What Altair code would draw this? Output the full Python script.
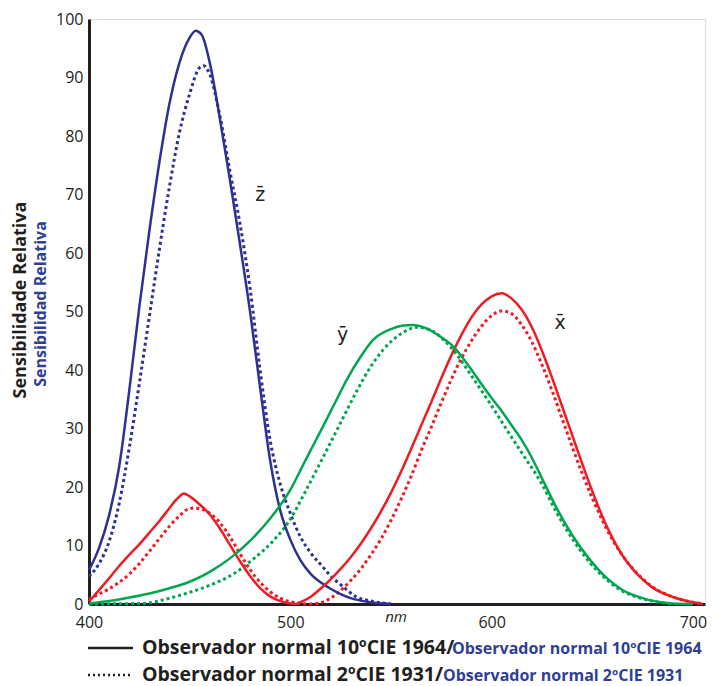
import altair as alt
import pandas as pd

# ---- data (wavelength nm, relative sensitivity) ----
z10_nm = [400, 405, 410, 415, 420, 425, 430, 435, 440, 445, 450, 453, 456, 460, 465, 470, 475, 480, 485, 490, 495, 500, 505, 510, 515, 520, 525, 530, 540, 550]
z10_v  = [5.8, 9.6, 15.2, 23.5, 36.5, 50.8, 63.8, 75.6, 85.6, 92.6, 96.8, 98, 97.3, 92.5, 83, 72.5, 61.5, 50, 37, 24.5, 16, 11, 7.5, 5.2, 3.7, 2.6, 1.7, 1.0, 0.3, 0]

z2_nm = [400, 405, 410, 415, 420, 425, 430, 435, 440, 445, 450, 455, 457, 460, 465, 470, 475, 480, 485, 490, 495, 500, 505, 510, 516, 520, 525, 533, 540, 550]
z2_v  = [4.7, 6.9, 10.7, 17.2, 26.7, 37.7, 49.2, 60.7, 71.4, 80.7, 87.2, 91.7, 92, 90.5, 83.5, 74, 65, 54, 40, 28, 20.5, 15.5, 11.5, 8.8, 6.4, 4.8, 3.3, 1.2, 0.5, 0]

x10_nm = [400, 405, 410, 415, 420, 425, 430, 435, 440, 443, 445, 447, 450, 455, 460, 465, 470, 475, 480, 485, 490, 495, 500, 503, 505, 510, 515, 520, 525, 530, 535, 540, 545, 550, 555, 560, 565, 570, 575, 580, 585, 590, 595, 600, 605, 610, 615, 620, 625, 630, 635, 640, 645, 650, 655, 660, 665, 670, 675, 680, 690, 700, 705]
x10_v  = [0.4, 2.4, 4.4, 6.5, 8.4, 10.2, 12.2, 14.2, 16.4, 17.7, 18.4, 18.9, 18.4, 17, 15.3, 12.9, 10.1, 7.3, 4.8, 2.7, 1.3, 0.5, 0.1, 0, 0.3, 1.2, 2.6, 4.2, 6.0, 8.0, 10.3, 12.9, 15.8, 19.0, 22.6, 26.5, 30.5, 34.5, 38.6, 42.5, 46, 49, 51.2, 52.6, 53.1, 52.2, 50.3, 47.3, 43.3, 38.7, 33.8, 28.9, 24.0, 19.3, 15, 11.3, 8.3, 6, 4.2, 2.8, 1.2, 0.3, 0]

x2_nm = [400, 405, 410, 415, 420, 425, 430, 435, 440, 445, 449, 452, 455, 460, 465, 470, 475, 480, 485, 490, 495, 500, 505, 510, 515, 520, 525, 530, 535, 540, 545, 550, 555, 560, 565, 570, 575, 580, 585, 590, 595, 600, 605, 610, 615, 620, 625, 630, 635, 640, 645, 650, 655, 660, 665, 670, 675, 680, 690, 700, 705]
x2_v  = [0.8, 1.7, 2.6, 3.7, 5.1, 6.9, 9.0, 11.2, 13.3, 15.1, 16.2, 16.4, 16.3, 15.5, 13.9, 11.5, 8.6, 5.9, 3.7, 2.1, 1.0, 0.4, 0.1, 0, 0.2, 1.0, 2.3, 4.0, 6.0, 8.4, 11.1, 14.3, 17.9, 21.8, 26.2, 30.2, 34.4, 38.4, 42, 45, 47.5, 49.3, 50.1, 49.6, 47.7, 44.8, 40.9, 36.5, 31.7, 26.9, 22.3, 18.1, 14.3, 11.0, 8.3, 6.1, 4.3, 2.9, 1.2, 0.3, 0]

y10_nm = [400, 410, 420, 430, 440, 450, 460, 470, 480, 490, 500, 507, 516, 520, 525, 528, 535, 541, 550, 556, 561, 567, 575, 581, 588, 596, 600, 605, 610, 615, 620, 625, 632, 640, 649, 657, 665, 675, 690, 700]
y10_v  = [0.1, 0.5, 1.1, 1.8, 2.7, 3.8, 5.5, 7.8, 10.8, 14.6, 19.5, 24.2, 30.2, 32.9, 36.3, 38.3, 42.3, 45.1, 47, 47.6, 47.7, 47.2, 45.6, 44, 41, 37.1, 35.2, 33, 30.5, 28, 25, 21.5, 16.6, 11.8, 7.5, 4.5, 2.4, 1, 0.1, 0]

y2_nm = [400, 427, 440, 450, 460, 472, 482, 491, 500, 507, 516, 525, 533, 540, 546, 555, 563, 570, 576, 583, 590, 599, 609, 616, 625, 632, 640, 649, 657, 665, 675, 690]
y2_v  = [0, 0.1, 1.0, 2.0, 3.2, 5.2, 7.8, 10.6, 14.5, 18.9, 24.9, 31, 36.4, 40.6, 43.4, 46.2, 47.3, 46.8, 45.2, 42.5, 39, 34.4, 29, 25.3, 20.5, 15.8, 11.2, 7, 4.2, 2.2, 0.9, 0]

y_ticks = [0, 10, 20, 30, 40, 50, 60, 70, 80, 90, 100]
x_ticks = [400, 500, 600, 700]

curve_labels = ["z\u0304", "y\u0304", "x\u0304"]
curve_label_nm = [485, 526, 634]
curve_label_v = [70, 46, 48]

legend_black = ["Observador normal 10ºCIE 1964/", "Observador normal 2ºCIE 1931/"]
legend_blue = ["Observador normal 10ºCIE 1964", "Observador normal 2ºCIE 1931"]
title_black = "Sensibilidade Relativa"
title_blue = "Sensibilidad Relativa"

RED = "#ed1c24"
GREEN = "#00a651"
BLUE = "#2e3192"
INK = "#231f20"
TBLUE = "#2e3f94"
FONT = "Open Sans"


def frame(nm, v, curve, obs):
    return pd.DataFrame({"nm": nm, "v": v, "curve": curve, "obs": obs})


solid = pd.concat([frame(z10_nm, z10_v, "z", "10"), frame(x10_nm, x10_v, "x", "10"),
                   frame(y10_nm, y10_v, "y", "10")])
dotted = pd.concat([frame(z2_nm, z2_v, "z", "2"), frame(x2_nm, x2_v, "x", "2"),
                    frame(y2_nm, y2_v, "y", "2")])

xs = alt.Scale(domain=[400, 706], nice=False)
ys = alt.Scale(domain=[0, 100], nice=False)
cs = alt.Scale(domain=["x", "y", "z"], range=[RED, GREEN, BLUE])

xaxis = alt.Axis(values=x_ticks, title=None, ticks=False, grid=False, labelFontSize=16,
                 labelColor=INK, labelFont=FONT, labelPadding=10, domainColor=INK,
                 domainWidth=3, labelFlush=False)
yaxis = alt.Axis(values=y_ticks, title=None, ticks=False, grid=False, labelFontSize=16,
                 labelColor=INK, labelFont=FONT, labelPadding=6, domainColor=INK,
                 domainWidth=3)

dot_layer = alt.Chart(dotted).mark_line(interpolate="monotone", strokeWidth=3,
                                        strokeDash=[3, 3]).encode(
    x=alt.X("nm:Q", scale=xs, axis=xaxis),
    y=alt.Y("v:Q", scale=ys, axis=yaxis),
    color=alt.Color("curve:N", scale=cs, legend=None),
    detail="curve:N",
)
solid_layer = alt.Chart(solid).mark_line(interpolate="monotone", strokeWidth=2.5).encode(
    x=alt.X("nm:Q", scale=xs),
    y=alt.Y("v:Q", scale=ys),
    color=alt.Color("curve:N", scale=cs, legend=None),
    detail="curve:N",
)

lab_df = pd.DataFrame({"nm": curve_label_nm, "v": curve_label_v, "t": curve_labels})
labels = alt.Chart(lab_df).mark_text(fontSize=19, color=INK, font="DejaVu Sans",
                                     align="center", baseline="middle").encode(
    x=alt.X("nm:Q", scale=xs), y=alt.Y("v:Q", scale=ys), text="t:N")

nm_lab = alt.Chart(pd.DataFrame({"nm": [552.5], "t": ["nm"]})).mark_text(
    fontSize=15, fontStyle="italic", color=INK, font=FONT, align="center",
    baseline="middle").encode(x=alt.X("nm:Q", scale=xs), y=alt.value(598), text="t:N")

# y-axis titles (two languages, two colours)
t1 = alt.Chart(pd.DataFrame({"t": [title_black]})).mark_text(
    angle=270, fontSize=18, fontWeight="bold", color=INK, font=FONT, align="center",
    baseline="middle").encode(x=alt.value(-68), y=alt.value(281), text="t:N")
t2 = alt.Chart(pd.DataFrame({"t": [title_blue]})).mark_text(
    angle=270, fontSize=16, fontWeight="bold", color=TBLUE, font=FONT, align="center",
    baseline="middle").encode(x=alt.value(-48), y=alt.value(285), text="t:N")

# custom legend
leg_y = [629, 656]
blue_x = [363, 354]
lg_solid = alt.Chart(pd.DataFrame({"a": [0]})).mark_rule(color=INK, strokeWidth=2.5).encode(
    x=alt.value(-1), x2=alt.value(44), y=alt.value(leg_y[0]))
lg_dot = alt.Chart(pd.DataFrame({"a": [0]})).mark_rule(color=INK, strokeWidth=2.5,
                                                       strokeDash=[2, 3]).encode(
    x=alt.value(-1), x2=alt.value(44), y=alt.value(leg_y[1]))

lg_text = []
for i in range(2):
    lg_text.append(alt.Chart(pd.DataFrame({"t": [legend_black[i]]})).mark_text(
        fontSize=19.5, fontWeight="bold", color=INK, font=FONT, align="left",
        baseline="middle").encode(x=alt.value(53), y=alt.value(leg_y[i]), text="t:N"))
    lg_text.append(alt.Chart(pd.DataFrame({"t": [legend_blue[i]]})).mark_text(
        fontSize=16, fontWeight="bold", color=TBLUE, font=FONT, align="left",
        baseline="middle").encode(x=alt.value(blue_x[i]), y=alt.value(leg_y[i] + 1),
                                  text="t:N"))

chart = alt.layer(dot_layer, solid_layer, labels, nm_lab, t1, t2, lg_solid, lg_dot,
                  *lg_text).properties(
    width=616, height=585,
    autosize=alt.AutoSizeParams(type="none"),
    padding={"left": 81, "top": 11, "right": 8, "bottom": 84},
).configure_view(stroke=None).configure(background="white")

chart.save("out.html", embed_options={"renderer": "svg", "actions": False})
